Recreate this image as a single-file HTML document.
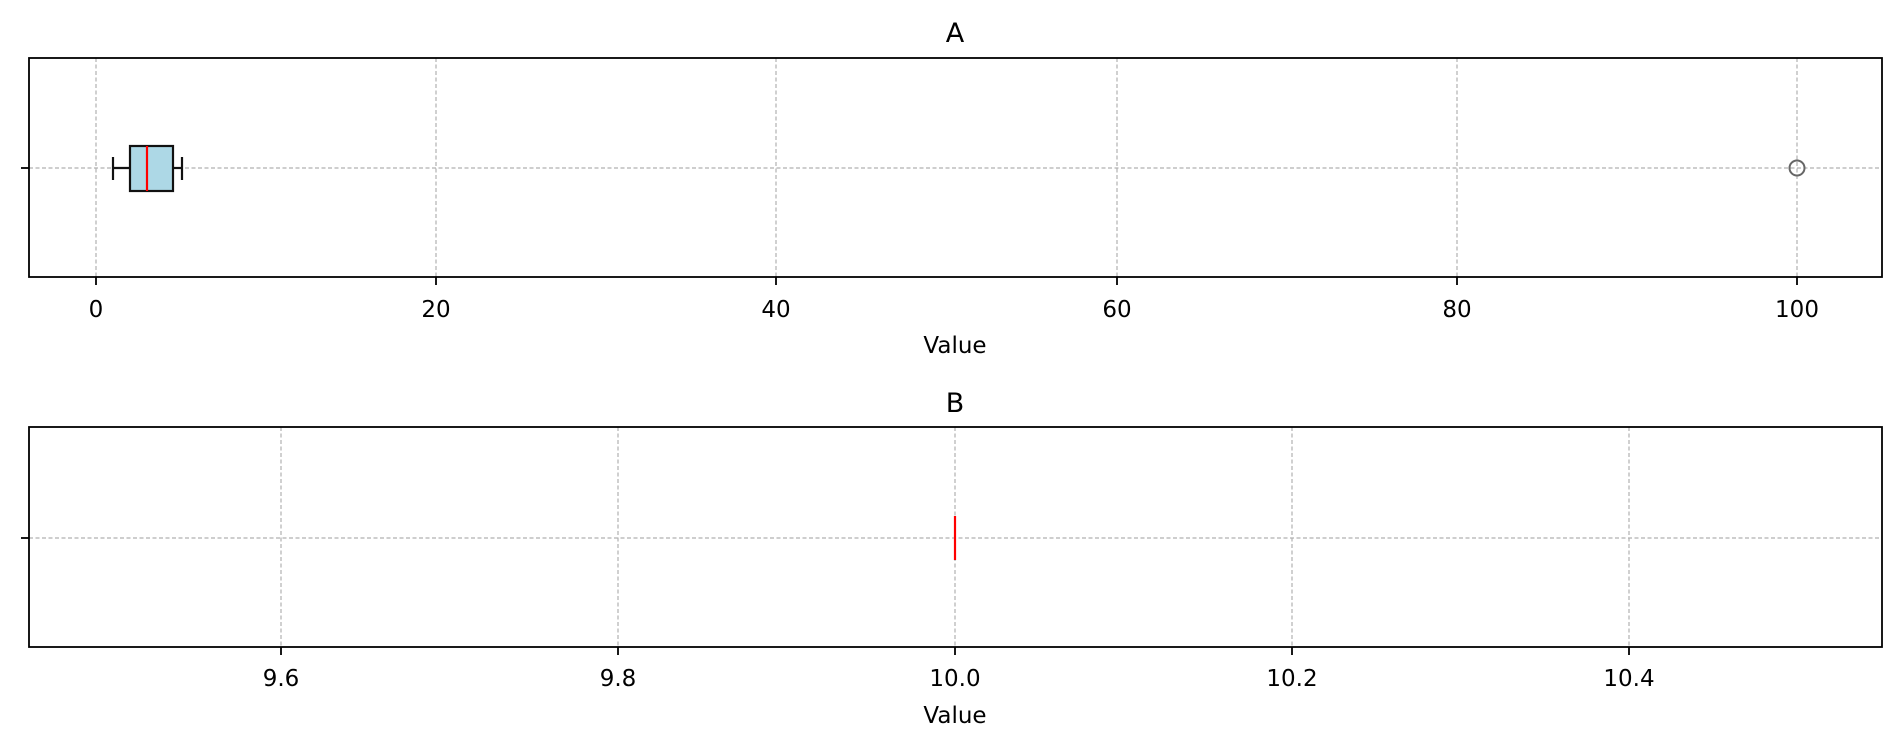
<!DOCTYPE html>
<html><head><style>body{margin:0;background:#fff}</style></head><body>
<svg width="1900" height="748" xmlns="http://www.w3.org/2000/svg" font-family="DejaVu Sans, Liberation Sans, sans-serif">
<rect width="1900" height="748" fill="#fff"/>
<!-- Axis A -->
<g stroke="#b0b0b0" stroke-width="1.2" stroke-dasharray="4,2.5">
<line x1="96" y1="58" x2="96" y2="277"/><line x1="436" y1="58" x2="436" y2="277"/><line x1="776" y1="58" x2="776" y2="277"/><line x1="1117" y1="58" x2="1117" y2="277"/><line x1="1457" y1="58" x2="1457" y2="277"/><line x1="1797" y1="58" x2="1797" y2="277"/>
<line x1="29" y1="168" x2="1882" y2="168"/>
</g>
<g stroke="#111" stroke-width="2.2">
<line x1="113" y1="168" x2="130" y2="168"/><line x1="173" y1="168" x2="182" y2="168"/>
<line x1="113" y1="157" x2="113" y2="180"/><line x1="182" y1="157" x2="182" y2="180"/>
<rect x="130" y="146" width="43" height="45" fill="#add8e6"/>
</g>
<line x1="147" y1="146" x2="147" y2="191" stroke="#f00" stroke-width="2.2"/>
<circle cx="1797" cy="168" r="7.5" fill="none" stroke="#666" stroke-width="2"/>
<rect x="29" y="58" width="1853" height="219" fill="none" stroke="#000" stroke-width="1.8"/>
<g stroke="#000" stroke-width="1.8"><line x1="21" y1="168" x2="29" y2="168"/>
<line x1="96" y1="277" x2="96" y2="285"/><line x1="436" y1="277" x2="436" y2="285"/><line x1="776" y1="277" x2="776" y2="285"/><line x1="1117" y1="277" x2="1117" y2="285"/><line x1="1457" y1="277" x2="1457" y2="285"/><line x1="1797" y1="277" x2="1797" y2="285"/></g>
<g font-size="23" text-anchor="middle" fill="#000">
<text x="96" y="317">0</text><text x="436" y="317">20</text><text x="776" y="317">40</text><text x="1117" y="317">60</text><text x="1457" y="317">80</text><text x="1797" y="317">100</text>
<text x="955" y="353">Value</text>
<text x="955" y="42" font-size="27">A</text>
</g>
<!-- Axis B -->
<g stroke="#b0b0b0" stroke-width="1.2" stroke-dasharray="4,2.5">
<line x1="281" y1="427" x2="281" y2="647"/><line x1="618" y1="427" x2="618" y2="647"/><line x1="955" y1="427" x2="955" y2="647"/><line x1="1292" y1="427" x2="1292" y2="647"/><line x1="1629" y1="427" x2="1629" y2="647"/>
<line x1="29" y1="538" x2="1882" y2="538"/>
</g>
<line x1="955" y1="516" x2="955" y2="560" stroke="#f00" stroke-width="2.2"/>
<rect x="29" y="427" width="1853" height="220" fill="none" stroke="#000" stroke-width="1.8"/>
<g stroke="#000" stroke-width="1.8"><line x1="21" y1="538" x2="29" y2="538"/>
<line x1="281" y1="647" x2="281" y2="655"/><line x1="618" y1="647" x2="618" y2="655"/><line x1="955" y1="647" x2="955" y2="655"/><line x1="1292" y1="647" x2="1292" y2="655"/><line x1="1629" y1="647" x2="1629" y2="655"/></g>
<g font-size="23" text-anchor="middle" fill="#000">
<text x="281" y="686">9.6</text><text x="618" y="686">9.8</text><text x="955" y="686">10.0</text><text x="1292" y="686">10.2</text><text x="1629" y="686">10.4</text>
<text x="955" y="723">Value</text>
<text x="955" y="412" font-size="27">B</text>
</g>
</svg>
</body></html>
